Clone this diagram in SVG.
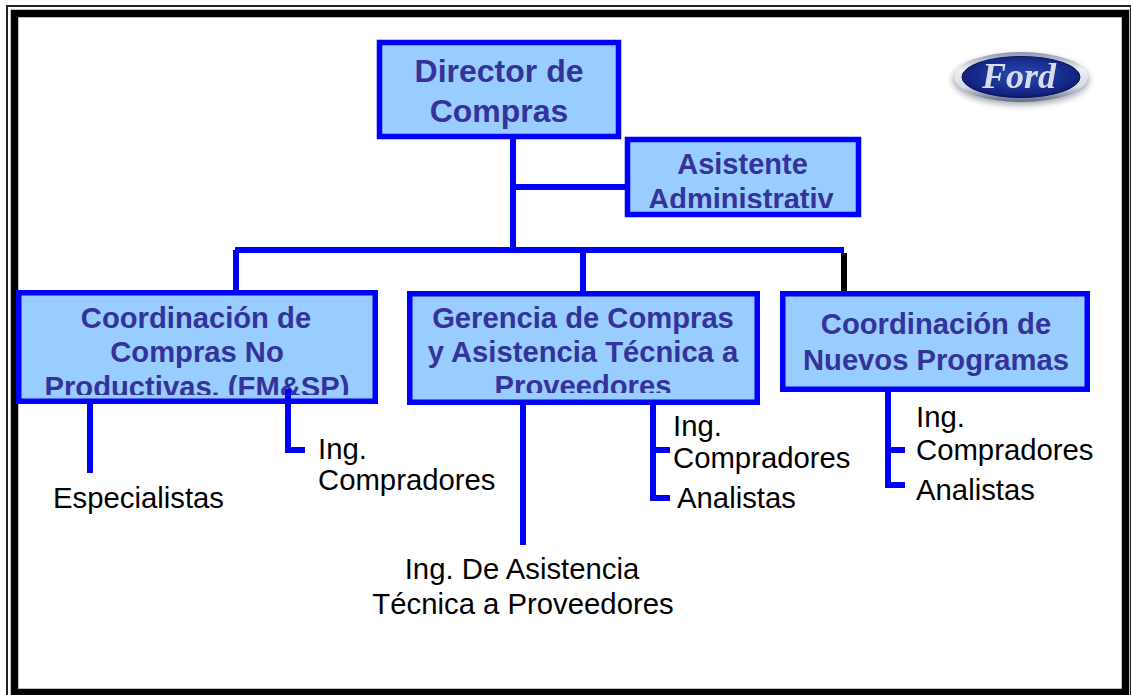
<svg xmlns="http://www.w3.org/2000/svg" width="1131" height="695" viewBox="0 0 1131 695">
<style>
.box{fill:#99ccff;stroke:#0000ff;stroke-width:5.5}
.c{fill:none;stroke:#0000ff;stroke-width:6}
.t{font-family:"Liberation Sans",Arial,sans-serif;font-weight:bold;fill:#333399;text-anchor:middle}
.l{font-family:"Liberation Sans",Arial,sans-serif;font-size:29.300px;fill:#000}
.lm{text-anchor:middle}
</style>
<defs>
<clipPath id="c1"><rect x="21" y="296" width="351" height="99"/></clipPath>
<clipPath id="c2"><rect x="412" y="296" width="343" height="97"/></clipPath>
<clipPath id="c3"><rect x="630" y="142" width="226" height="66"/></clipPath>
<linearGradient id="rim" x1="0" y1="0" x2="0" y2="1"><stop offset="0" stop-color="#8a94ad"/><stop offset=".35" stop-color="#eef0f5"/><stop offset=".7" stop-color="#d6dae6"/><stop offset="1" stop-color="#5d6685"/></linearGradient>
<radialGradient id="blue" cx=".5" cy=".45" r=".6"><stop offset="0" stop-color="#2b4aa8"/><stop offset=".7" stop-color="#16288a"/><stop offset="1" stop-color="#0c1660"/></radialGradient>
<filter id="soft" x="-20%" y="-40%" width="140%" height="180%"><feGaussianBlur stdDeviation="3"/></filter>
<filter id="tiny" x="-5%" y="-5%" width="110%" height="110%"><feGaussianBlur stdDeviation=".5"/></filter>
</defs>
<rect width="1131" height="695" fill="#fff"/>
<g id="frame">
<rect x="7" y="6" width="1124" height="700" fill="none" stroke="#222" stroke-width="2"/>
<rect x="14.500" y="13.500" width="1111" height="679" fill="none" stroke="#000" stroke-width="7.500"/>
</g>
<g id="connectors">
<path class="c" d="M513 139V250M513 187H626M235 250H844M236 250V291M583 250V291"/>
<path d="M844 253V291" fill="none" stroke="#000" stroke-width="6"/>
<path class="c" d="M90 404V473"/>
<path class="c" d="M523 405V545"/>
<path class="c" d="M653 405V498H670M653 450H670"/>
<path class="c" d="M888 392V485H905M888 450H905"/>
</g>
<g id="director"><rect class="box" x="379.500" y="42.500" width="239" height="94"/>
<text class="t" font-size="32" x="499" y="82">Director de</text><text class="t" font-size="32" x="499" y="122">Compras</text></g>
<g id="asistente"><rect class="box" x="627.500" y="139.500" width="231" height="75"/>
<g clip-path="url(#c3)"><text class="t" font-size="29" x="742.500" y="174">Asistente</text><text class="t" font-size="29" x="741" y="209">Administrativ</text></g></g>
<g id="coord-no-prod"><rect class="box" x="18.750" y="292.750" width="356.500" height="108.500"/>
<g clip-path="url(#c1)"><text class="t" font-size="29.200" x="196" y="328">Coordinación de</text><text class="t" font-size="29.200" x="197" y="362">Compras No</text><text class="t" font-size="29.200" x="197" y="397">Productivas. (FM&amp;SP)</text></g></g>
<g id="gerencia"><rect class="box" x="409.750" y="293.750" width="347.500" height="108.500"/>
<g clip-path="url(#c2)"><text class="t" font-size="29.200" x="583" y="328">Gerencia de Compras</text><text class="t" font-size="29.200" x="583" y="362">y Asistencia Técnica a</text><text class="t" font-size="29.200" x="583" y="396">Proveedores</text></g></g>
<g id="coord-nuevos"><rect class="box" x="782.750" y="293.750" width="304.500" height="95.500"/>
<text class="t" font-size="29.200" x="936" y="334">Coordinación de</text><text class="t" font-size="29.200" x="936" y="370">Nuevos Programas</text></g>
<path class="c" d="M288 389V450H305"/>
<g id="labels">
<text class="l" x="53" y="508">Especialistas</text>
<text class="l" x="318" y="459">Ing.</text><text class="l" x="318" y="490">Compradores</text>
<text class="l" x="673" y="436">Ing.</text><text class="l" x="673" y="468">Compradores</text>
<text class="l" x="677" y="508">Analistas</text>
<text class="l" x="916" y="427">Ing.</text><text class="l" x="916" y="460">Compradores</text>
<text class="l" x="916" y="500">Analistas</text>
<text class="l lm" x="522" y="579">Ing. De Asistencia</text>
<text class="l lm" x="523" y="614">Técnica a Proveedores</text>
</g>
<g id="ford-logo">
<ellipse cx="1021" cy="80" rx="68" ry="25" fill="#5a5f70" opacity=".55" filter="url(#soft)"/>
<ellipse cx="1021" cy="77" rx="67" ry="25" fill="url(#rim)" filter="url(#tiny)"/>
<ellipse cx="1021" cy="77" rx="59" ry="20.500" fill="url(#blue)" stroke="#0a1258" stroke-width="1" filter="url(#tiny)"/>
<text x="1019" y="88" font-family="'Liberation Serif',serif" font-style="italic" font-weight="bold" font-size="36" fill="#d8dcec" text-anchor="middle" filter="url(#tiny)">Ford</text>
</g>
</svg>
